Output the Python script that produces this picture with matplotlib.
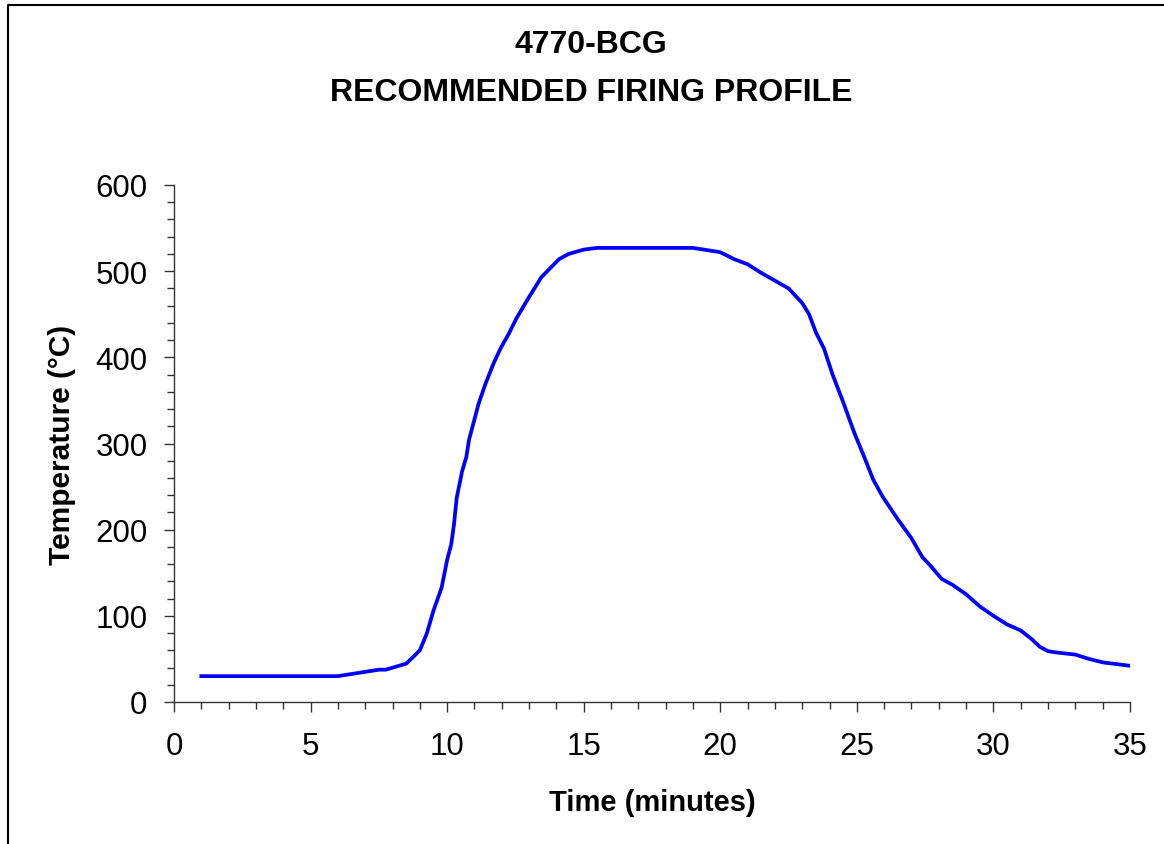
import matplotlib
matplotlib.use("Agg")
import matplotlib.pyplot as plt
from matplotlib.ticker import MultipleLocator
from matplotlib.lines import Line2D

plt.rcParams['font.family'] = ['Liberation Sans', 'DejaVu Sans']

# firing profile
time_min = [1, 2, 3, 4, 5, 6, 7, 7.5, 7.75, 8.5, 8.75, 9.0, 9.25, 9.5, 9.8,
            10.0, 10.15, 10.25, 10.35, 10.55, 10.7, 10.8, 11.15, 11.4, 11.7,
            11.95, 12.25, 12.55, 13.0, 13.45, 14.1, 14.45, 15.0, 15.5, 16,
            17, 18, 19, 20, 20.5, 21, 21.5, 22, 22.5, 23, 23.25, 23.5, 23.8,
            24.1, 24.5, 24.9, 25.3, 25.6, 25.95, 26.5, 27.0, 27.4, 27.7, 28.1,
            28.5, 29.0, 29.5, 30.0, 30.5, 31.0, 31.4, 31.7, 32.0, 32.3, 33.0,
            33.5, 34.0, 35.0]
temp_c = [30, 30, 30, 30, 30, 30, 35, 37.5, 37.5, 44.5, 52, 60, 79, 106, 133,
          165, 183, 206, 237, 268, 284, 304, 346, 369, 393,
          410, 427, 446, 470, 493, 514, 520, 525, 527, 527,
          527, 527, 527, 522, 514, 508, 498, 489, 480, 463, 450, 429, 410,
          381, 348, 313, 282, 258, 238, 212, 190, 168, 158, 143,
          136, 125, 111, 100, 90, 83, 73, 64, 59, 57.5, 55,
          50, 46, 42]

title_lines = ["4770-BCG", "RECOMMENDED FIRING PROFILE"]

fig = plt.figure(figsize=(11.64, 8.45), dpi=100)
ax = fig.add_axes([174 / 1164, 1 - 703 / 845, (1130 - 174) / 1164, (703 - 186) / 845])

ax.plot(time_min, temp_c, color='#0000FF', linewidth=2.7)

ax.set_xlim(0, 35)
ax.set_ylim(0, 600)
ax.xaxis.set_major_locator(MultipleLocator(5))
ax.xaxis.set_minor_locator(MultipleLocator(1))
ax.yaxis.set_major_locator(MultipleLocator(100))
ax.yaxis.set_minor_locator(MultipleLocator(20))

for s in ['top', 'right']:
    ax.spines[s].set_visible(False)
for s in ['left', 'bottom']:
    ax.spines[s].set_color('#333333')
    ax.spines[s].set_linewidth(1.0)

ax.tick_params(axis='both', which='major', direction='out', length=7, width=1,
               color='#333333', labelsize=22.5)
ax.tick_params(axis='both', which='minor', direction='out', length=5, width=1,
               color='#333333')
ax.tick_params(axis='x', which='major', pad=14)
ax.tick_params(axis='y', which='major', pad=12)

ax.set_xlabel("Time (minutes)", fontsize=21, fontweight='bold', labelpad=19)
ax.set_ylabel("Temperature (°C)", fontsize=21.5, fontweight='bold', labelpad=14)

fig.text(591 / 1164, 1 - 45 / 845, title_lines[0], ha='center', va='center',
         fontsize=23, fontweight='bold')
fig.text(591 / 1164, 1 - 93 / 845, title_lines[1], ha='center', va='center',
         fontsize=23, fontweight='bold')

# chart border (only left and top edges visible in the reference)
fig.add_artist(Line2D([8 / 1164, 8 / 1164, 1.0], [0.0, 1 - 6 / 845, 1 - 6 / 845],
                      transform=fig.transFigure, color='black', linewidth=1.5))

fig.savefig("out.png", dpi=100)
